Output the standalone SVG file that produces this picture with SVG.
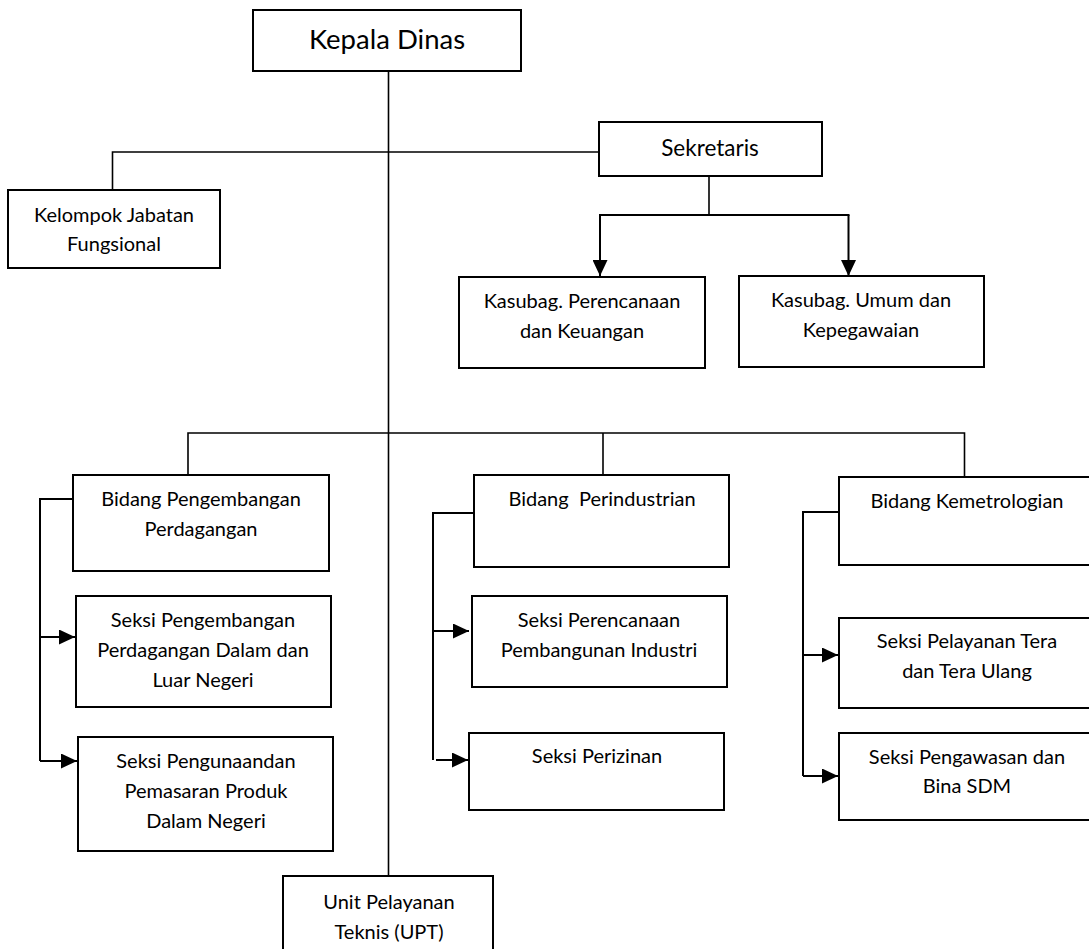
<svg xmlns="http://www.w3.org/2000/svg" width="1089" height="949" viewBox="0 0 1089 949">
<style>
.box{fill:#fff;stroke:#000;stroke-width:2}
.ln{fill:none;stroke:#000;stroke-width:1.6}
.br{fill:none;stroke:#000;stroke-width:2}
text{font-family:Lato,"Liberation Sans",sans-serif;font-size:20px;fill:#000;text-anchor:middle}
.big{font-size:27.5px}
.mid{font-size:22.5px}
</style>
<defs>
<marker id="ah" markerUnits="userSpaceOnUse" markerWidth="16" markerHeight="15" refX="16" refY="7.5" orient="auto" viewBox="0 0 16 15">
<path d="M0,0 L16,7.5 L0,15 z" fill="#000"/>
</marker>
</defs>
<rect width="1089" height="949" fill="#fff"/>
<g id="connectors">
<line class="ln" x1="388.5" y1="71" x2="388.5" y2="876"/>
<polyline class="ln" points="599,152 112.5,152 112.5,190"/>
<line class="ln" x1="709" y1="176" x2="709" y2="215"/>
<line class="br" x1="599" y1="215" x2="849.5" y2="215"/>
<line class="br" x1="600" y1="215" x2="600" y2="276" marker-end="url(#ah)"/>
<line class="br" x1="848.5" y1="215" x2="848.5" y2="276" marker-end="url(#ah)"/>
<polyline class="ln" points="188,475 188,433 964.5,433 964.5,477"/>
<line class="ln" x1="603" y1="433" x2="603" y2="475"/>
<polyline class="br" points="73,499 40,499 40,761"/>
<line class="br" x1="40" y1="637" x2="75" y2="637" marker-end="url(#ah)"/>
<line class="br" x1="40" y1="761" x2="77" y2="761" marker-end="url(#ah)"/>
<polyline class="br" points="474,513 433,513 433,760"/>
<line class="br" x1="433" y1="631" x2="469" y2="631" marker-end="url(#ah)"/>
<line class="br" x1="436" y1="760" x2="468" y2="760" marker-end="url(#ah)"/>
<polyline class="br" points="839,512 803,512 803,776"/>
<line class="br" x1="803" y1="655" x2="838" y2="655" marker-end="url(#ah)"/>
<line class="br" x1="803" y1="776" x2="838" y2="776" marker-end="url(#ah)"/>
</g>
<g id="kepala"><rect class="box" x="253" y="10" width="268" height="61"/><text class="big" x="387" y="49">Kepala Dinas</text></g>
<g id="kelompok"><rect class="box" x="8" y="190" width="212" height="78"/><text x="114" y="222">Kelompok Jabatan</text><text x="114" y="251">Fungsional</text></g>
<g id="sekretaris"><rect class="box" x="599" y="122" width="223" height="54"/><text class="mid" x="710" y="156">Sekretaris</text></g>
<g id="kasubag1"><rect class="box" x="459" y="277" width="246" height="91"/><text x="582" y="308">Kasubag. Perencanaan</text><text x="582" y="338">dan Keuangan</text></g>
<g id="kasubag2"><rect class="box" x="739" y="276" width="245" height="91"/><text x="861" y="307">Kasubag. Umum dan</text><text x="861" y="337">Kepegawaian</text></g>
<g id="bidang1"><rect class="box" x="73" y="475" width="256" height="96"/><text x="201" y="506">Bidang Pengembangan</text><text x="201" y="536">Perdagangan</text></g>
<g id="seksi1a"><rect class="box" x="76" y="596" width="255" height="111"/><text x="203" y="627">Seksi Pengembangan</text><text x="203" y="657">Perdagangan Dalam dan</text><text x="203" y="687">Luar Negeri</text></g>
<g id="seksi1b"><rect class="box" x="78" y="737" width="255" height="114"/><text x="206" y="768">Seksi Pengunaandan</text><text x="206" y="798">Pemasaran Produk</text><text x="206" y="828">Dalam Negeri</text></g>
<g id="bidang2"><rect class="box" x="474" y="475" width="255" height="92"/><text x="602" y="506" xml:space="preserve">Bidang  Perindustrian</text></g>
<g id="seksi2a"><rect class="box" x="472" y="596" width="255" height="91"/><text x="599" y="627">Seksi Perencanaan</text><text x="599" y="657">Pembangunan Industri</text></g>
<g id="seksi2b"><rect class="box" x="469" y="733" width="255" height="77"/><text x="597" y="763">Seksi Perizinan</text></g>
<g id="bidang3"><rect class="box" x="839" y="477" width="262" height="88"/><text x="967" y="508">Bidang Kemetrologian</text></g>
<g id="seksi3a"><rect class="box" x="839" y="618" width="262" height="90"/><text x="967" y="648">Seksi Pelayanan Tera</text><text x="967" y="678">dan Tera Ulang</text></g>
<g id="seksi3b"><rect class="box" x="839" y="733" width="262" height="87"/><text x="967" y="764">Seksi Pengawasan dan</text><text x="967" y="793">Bina SDM</text></g>
<g id="upt"><rect class="box" x="283" y="876" width="210" height="90"/><text x="389" y="909">Unit Pelayanan</text><text x="389" y="939">Teknis (UPT)</text></g>
</svg>
